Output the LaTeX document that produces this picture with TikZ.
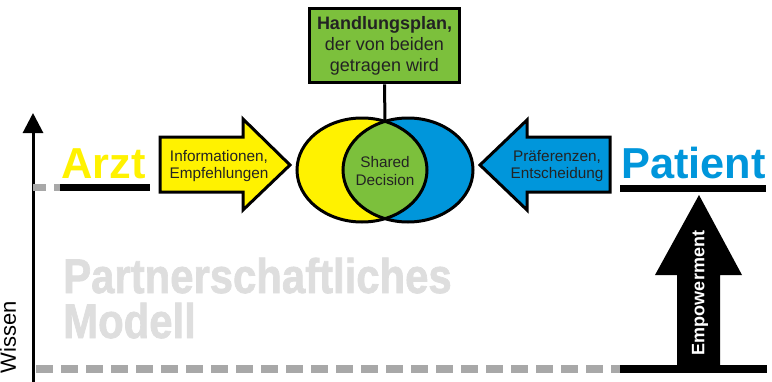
\documentclass[tikz,border=0pt]{standalone}
\usepackage{fontspec}
\setmainfont{Liberation Sans}
\newfontfamily\heavyfont[FakeBold=1.6]{Liberation Sans Bold}
\usetikzlibrary{arrows.meta}
\definecolor{cyel}{RGB}{255,242,0}
\definecolor{cblu}{RGB}{0,150,219}
\definecolor{cgrn}{RGB}{124,192,60}
\definecolor{cgtx}{RGB}{222,222,222}
\definecolor{cdash}{RGB}{168,168,168}
\definecolor{ctxt}{RGB}{35,35,35}
\tikzset{
  outl/.style={draw=black, line width=2.25pt, line join=miter},
  arrtext/.style={font=\fontsize{11.5}{12.75}\selectfont, align=center, text=ctxt, inner sep=0pt},
  bigword/.style={font=\fontsize{32.5}{36}\selectfont\bfseries, inner sep=0pt, anchor=base west},
  baseline/.style={line width=5.25pt},
  graydash/.style={cdash, line width=6pt, dash pattern=on 12.75pt off 6pt},
  ghost/.style={anchor=base west, inner sep=0pt, text=cgtx, font=\fontsize{36.5}{34}\heavyfont},
}
\begin{document}
\begin{tikzpicture}[x=0.75pt,y=-0.75pt]
\useasboundingbox (0,0) rectangle (772,382);
% axis
\coordinate (axbot) at (33,384);
\coordinate (axtop) at (33,113);
\draw[line width=2.25pt, -{Triangle[width=15pt,length=15pt]}] (axbot) -- (axtop);
\node[rotate=90, anchor=base, font=\fontsize{16.5}{18}\selectfont, inner sep=0pt] (wissen) at (16,337.5) {Wissen};
% bottom line
\coordinate (b1) at (36,369);
\coordinate (b2) at (620,369);
\coordinate (b3) at (767,369);
\draw[graydash] (b1) -- (b2);
\draw[line width=6pt] (b2) -- (b3);
% Arzt line
\coordinate (a1) at (33,187.5);
\coordinate (a2) at (60,187.5);
\coordinate (a3) at (150,187.5);
\draw[cdash, line width=5.25pt, dash pattern=on 10pt off 6pt] (a1) -- (a2);
\draw[baseline] (a2) -- (a3);
% Patient line
\coordinate (p1) at (620,188.5);
\coordinate (p2) at (766,188.5);
\draw[baseline] (p1) -- (p2);
% words
\node[bigword, text=cyel] (arzt) at (61,178) {Arzt};
\node[bigword, text=cblu] (patient) at (621,178) {Patient};
\node[ghost] (partner) at (63,293) {\scalebox{0.86}[1]{Partnerschaftliches}};
\node[ghost] (modell) at (63,338) {\scalebox{0.86}[1]{Modell}};
% yellow arrow
\draw[outl, fill=cyel] (160,137) -- (243,137) -- (243,119) -- (290,165) -- (243,210) -- (243,192) -- (160,192) -- cycle;
\node[arrtext] (info) at (219,166) {Informationen,\\Empfehlungen};
% blue arrow
\draw[outl, fill=cblu] (610,137) -- (527,137) -- (527,120) -- (480,165) -- (527,210) -- (527,192) -- (610,192) -- cycle;
\node[arrtext] (praef) at (557,166) {Präferenzen,\\Entscheidung};
% Venn
\fill[cyel] (362,170) ellipse [x radius=65, y radius=52];
\fill[cblu] (408,170) ellipse [x radius=65, y radius=52];
\begin{scope}
  \clip (362,170) ellipse [x radius=65, y radius=52];
  \fill[cgrn] (408,170) ellipse [x radius=65, y radius=52];
\end{scope}
\draw[outl] (362,170) ellipse [x radius=65, y radius=52];
\draw[outl] (408,170) ellipse [x radius=65, y radius=52];
\node[align=center, text=ctxt, inner sep=0pt, font=\fontsize{11.5}{13.5}\selectfont] (shared) at (385,171) {Shared\\Decision};
\coordinate (lenstop) at (385,121.4);
% green box
\node[outl, fill=cgrn, minimum width=113pt, minimum height=56pt, align=center, text=ctxt, inner sep=0pt, font=\fontsize{13.5}{15.75}\selectfont] (plan) at (384.5,45.5) {\textbf{Handlungsplan,}\\der von beiden\\getragen wird};
\draw[line width=2.25pt] (plan.south) -- (lenstop);
% Empowerment arrow
\fill[black] (677,369) -- (677,275) -- (655,275) -- (699,195) -- (742,275) -- (720,275) -- (720,369) -- cycle;
\node[rotate=90, text=white, inner sep=0pt, font=\fontsize{13.5}{16}\selectfont\bfseries] (emp) at (700,293) {Empowerment};
\end{tikzpicture}
\end{document}
